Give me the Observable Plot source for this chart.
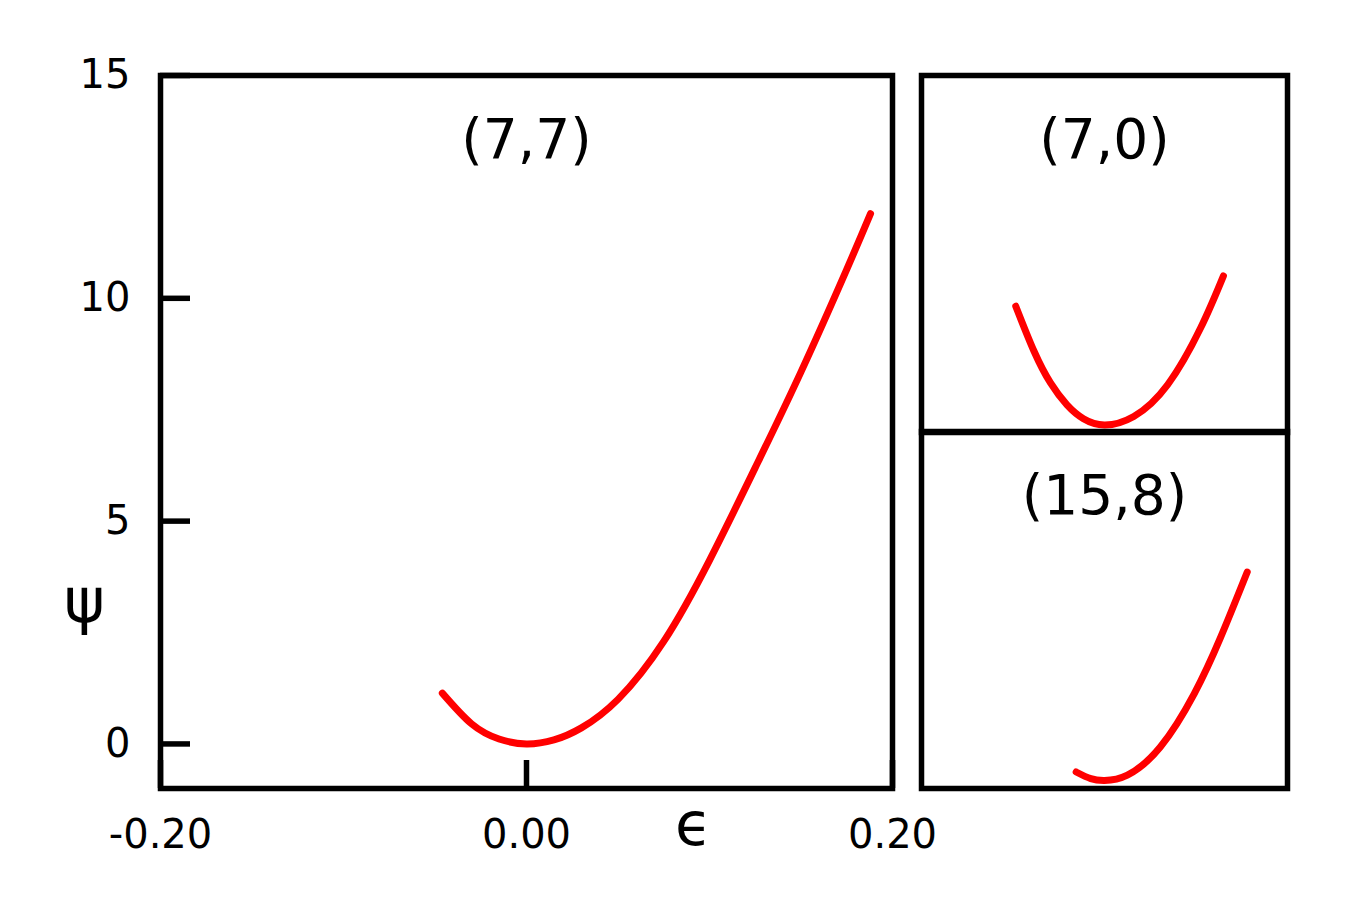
<!DOCTYPE html>
<html>
<head>
<meta charset="utf-8">
<script src="https://cdn.jsdelivr.net/npm/d3@7"></script>
<script src="https://cdn.jsdelivr.net/npm/@observablehq/plot@0.6"></script>
<style>
  html, body { margin: 0; padding: 0; background: #fff; }
  #wrap { position: relative; width: 1347px; height: 918px; overflow: hidden; font-family: "DejaVu Sans", sans-serif; }
  #wrap > div, #wrap > svg { position: absolute; }
</style>
</head>
<body>
<div id="wrap"></div>
<script>
// ---- data ----
const mainEps = [-0.046, -0.030, -0.015, 0.000, 0.015, 0.030, 0.050, 0.075, 0.100, 0.125, 0.150, 0.175, 0.188];
const mainPsi = [1.14, 0.45, 0.11, 0.00, 0.09, 0.36, 1.00, 2.30, 4.12, 6.20, 8.35, 10.65, 11.90];

const topEps = [-0.097, -0.077, -0.059, -0.041, -0.023, 0.000, 0.032, 0.069, 0.105, 0.130];
const topPsi = [2.83, 1.82, 1.11, 0.62, 0.31, 0.17, 0.36, 1.07, 2.34, 3.51];

const botEps = [-0.031, -0.015, 0.000, 0.025, 0.061, 0.098, 0.127, 0.156];
const botPsi = [0.37, 0.22, 0.18, 0.30, 0.93, 2.12, 3.39, 4.85];

const xTicks = [-0.2, 0, 0.2];
const yTicks = [0, 5, 10, 15];
const panelLabels = ["(7,7)", "(7,0)", "(15,8)"];
const xLabel = "ϵ";
const yLabel = "ψ";

const toRows = (xs, ys) => xs.map((x, i) => ({x, y: ys[i]}));
const FONT = "DejaVu Sans";
const LINE_W = 7;
const FRAME_W = 5.5;
const wrap = document.getElementById("wrap");

// ---- main panel ----
const main = Plot.plot({
  width: 900, height: 918,
  marginLeft: 160, marginRight: 8, marginTop: 75, marginBottom: 130,
  style: {fontFamily: FONT, background: "transparent", overflow: "visible"},
  x: {domain: [-0.2, 0.2]},
  y: {domain: [-1, 15]},
  marks: [
    Plot.line(toRows(mainEps, mainPsi), {x: "x", y: "y", stroke: "#ff0000", strokeWidth: LINE_W, curve: "natural"}),
    Plot.axisY(yTicks, {anchor: "left", tickSize: -30, strokeWidth: FRAME_W, stroke: "black", text: null, label: null}),
    Plot.axisY(yTicks, {anchor: "left", tickSize: 0, tickPadding: 30, fontSize: 40, fill: "black", label: null}),
    Plot.axisX(xTicks, {anchor: "bottom", tickSize: -28, strokeWidth: FRAME_W, stroke: "black", text: null, label: null}),
    Plot.axisX(xTicks, {anchor: "bottom", tickSize: 0, tickPadding: 31, fontSize: 40, fill: "black", label: null, tickFormat: d => d.toFixed(2)}),
    Plot.frame({stroke: "black", strokeWidth: FRAME_W}),
    Plot.text([panelLabels[0]], {frameAnchor: "top", dy: 43, text: d => d, fontSize: 55, fill: "black"}),
    Plot.text([yLabel], {frameAnchor: "bottom-left", textAnchor: "middle", lineAnchor: "middle", dx: -76, dy: -186, text: d => d, fontSize: 62, fill: "black"}),
    Plot.text([xLabel], {frameAnchor: "bottom", textAnchor: "middle", lineAnchor: "middle", dx: 167, dy: 37, text: d => d, fontSize: 60, fill: "black"})
  ]
});
main.style.left = "0px"; main.style.top = "0px";
wrap.appendChild(main);

// ---- right panels ----
function sidePanel(rows, label, top) {
  const p = Plot.plot({
    width: 374, height: 365,
    marginLeft: 4, marginRight: 4, marginTop: 4, marginBottom: 4,
    style: {fontFamily: FONT, background: "transparent", overflow: "visible"},
    x: {domain: [-0.2, 0.2], axis: null},
    y: {domain: [0, 8], axis: null},
    marks: [
      Plot.line(rows, {x: "x", y: "y", stroke: "#ff0000", strokeWidth: LINE_W, curve: "natural"}),
      Plot.frame({stroke: "black", strokeWidth: FRAME_W}),
      Plot.text([label], {frameAnchor: "top", dy: 43, text: d => d, fontSize: 55, fill: "black"})
    ]
  });
  p.style.left = "917px"; p.style.top = top + "px";
  wrap.appendChild(p);
}
sidePanel(toRows(topEps, topPsi), panelLabels[1], 71);
sidePanel(toRows(botEps, botPsi), panelLabels[2], 427);
</script>
</body>
</html>
